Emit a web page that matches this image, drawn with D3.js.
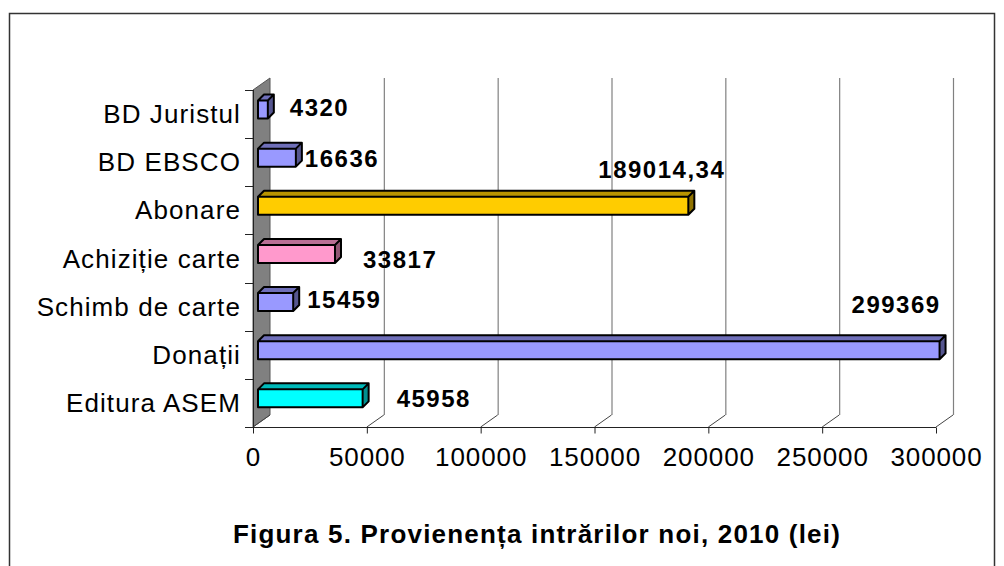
<!DOCTYPE html>
<html>
<head>
<meta charset="utf-8">
<script src="https://cdn.jsdelivr.net/npm/d3@7"></script>
<style>
  body { margin: 0; background: #fff; }
  svg { display: block; font-family: "Liberation Sans", Arial, sans-serif; }
</style>
</head>
<body>
<svg id="chart" width="1004" height="566"></svg>
<script>
// categories listed top to bottom as shown
const categories = ['BD Juristul', 'BD EBSCO', 'Abonare', 'Achiziție carte', 'Schimb de carte', 'Donații', 'Editura ASEM'];
const values = [4320, 16636, 189014.34, 33817, 15459, 299369, 45958];
const barColors = ['#9999ff', '#9999ff', '#ffcc00', '#ff99cc', '#9999ff', '#9999ff', '#00ffff'];
const xTicks = [0, 50000, 100000, 150000, 200000, 250000, 300000];
// where excel dropped each data label, relative to the bar end / band centre
const labelDx = [22, 9, -90, 28, 14, -88, 34];
const labelDy = [2, 5, -32, 9, 1, -42, 4];
const title = 'Figura 5. Provienența intrărilor noi, 2010 (lei)';

const svg = d3.select('#chart');

// outer frame
svg.append('rect')
  .attr('x', 9.5).attr('y', 13.5)
  .attr('width', 985).attr('height', 600)
  .attr('fill', 'none').attr('stroke', '#333').attr('stroke-width', 1.5);

const x = d3.scaleLinear().domain([0, 300000]).range([253, 936]);
const y = d3.scaleBand().domain(categories).range([90, 427]);

const DX = 17, DY = -12;   // depth of the plot box
const bx = 5, bdx = 6, bdy = -6;  // bar position in depth and bar thickness
const plotTop = 90, plotBottom = 427;

// grey side wall
svg.append('polygon')
  .attr('points', [[x(0), plotBottom], [x(0), plotTop], [x(0) + DX, plotTop + DY], [x(0) + DX, plotBottom + DY]].join(' '))
  .attr('fill', '#808080').attr('stroke', '#555').attr('stroke-width', 1);

// back gridlines + floor diagonals
xTicks.forEach(t => {
  if (t > 0) {
    svg.append('line')
      .attr('x1', x(t) + DX + 0.5).attr('x2', x(t) + DX + 0.5)
      .attr('y1', plotTop + DY).attr('y2', plotBottom + DY)
      .attr('stroke', '#808080').attr('stroke-width', 1.2);
  }
  svg.append('line')
    .attr('x1', x(t)).attr('y1', plotBottom)
    .attr('x2', x(t) + DX).attr('y2', plotBottom + DY)
    .attr('stroke', '#444').attr('stroke-width', 1);
});

// front value axis
const xAxis = svg.append('g')
  .attr('transform', `translate(0,${plotBottom + 0.5})`)
  .call(d3.axisBottom(x).tickValues(xTicks).tickSize(6).tickSizeOuter(0).tickFormat(d => d));
xAxis.select('.domain').attr('stroke', '#222').attr('d', `M245,0H${x(300000)}`);
xAxis.selectAll('.tick line').attr('stroke', '#222');
xAxis.selectAll('.tick text')
  .attr('y', 0).attr('dy', 38)
  .attr('font-size', 26).attr('fill', '#000')
  .attr('font-family', '"Liberation Sans", Arial, sans-serif')
  .style('letter-spacing', '0.9px');

// category axis
svg.append('line')
  .attr('x1', x(0) + 0.5).attr('x2', x(0) + 0.5)
  .attr('y1', plotTop).attr('y2', plotBottom)
  .attr('stroke', '#222').attr('stroke-width', 1);
const bandEdges = categories.map(c => y(c)).concat([plotBottom]);
bandEdges.forEach(v => {
  svg.append('line')
    .attr('x1', 245).attr('x2', x(0))
    .attr('y1', Math.round(v) + 0.5).attr('y2', Math.round(v) + 0.5)
    .attr('stroke', '#222');
});
svg.selectAll('.cat')
  .data(categories)
  .enter().append('text')
  .attr('class', 'cat')
  .attr('x', 241)
  .attr('y', d => y(d) + y.bandwidth() / 2 + 9)
  .attr('text-anchor', 'end')
  .attr('font-size', 26)
  .style('letter-spacing', '1.1px')
  .text(d => d);

// bars (front face, top face, side face)
const barH = 18;
const bars = svg.selectAll('.bar')
  .data(values)
  .enter().append('g')
  .attr('class', 'bar');

bars.each(function (v, i) {
  const g = d3.select(this);
  const x0 = x(0) + bx, x1 = x(v) + bx;
  const yt = y(categories[i]) + 10.5;
  const c = d3.color(barColors[i]);
  g.append('polygon')
    .attr('points', [[x0, yt], [x0 + bdx, yt + bdy], [x1 + bdx, yt + bdy], [x1, yt]].join(' '))
    .attr('fill', c.darker(0.9));
  g.append('polygon')
    .attr('points', [[x1, yt], [x1 + bdx, yt + bdy], [x1 + bdx, yt + barH + bdy], [x1, yt + barH]].join(' '))
    .attr('fill', c.darker(1.6));
  g.append('rect')
    .attr('x', x0).attr('y', yt)
    .attr('width', x1 - x0).attr('height', barH)
    .attr('fill', barColors[i]);
  g.append('path')
    .attr('d', `M${x0},${yt}L${x0 + bdx},${yt + bdy}H${x1 + bdx}V${yt + barH + bdy}L${x1},${yt + barH}H${x0}Z M${x0},${yt}H${x1}L${x1 + bdx},${yt + bdy} M${x1},${yt}V${yt + barH}`)
    .attr('fill', 'none').attr('stroke', '#000').attr('stroke-width', 2)
    .attr('stroke-linejoin', 'round');
});

// data labels
svg.selectAll('.lbl')
  .data(values)
  .enter().append('text')
  .attr('class', 'lbl')
  .attr('x', (d, i) => x(d) + bx + labelDx[i])
  .attr('y', (d, i) => y(categories[i]) + y.bandwidth() / 2 + labelDy[i])
  .attr('font-size', 24).attr('font-weight', 'bold')
  .style('letter-spacing', '1.5px')
  .text(d => String(d).replace('.', ','));

// title
svg.append('text')
  .attr('x', 537).attr('y', 543)
  .attr('text-anchor', 'middle')
  .attr('font-size', 26).attr('font-weight', 'bold')
  .style('letter-spacing', '1.2px')
  .text(title);
</script>
</body>
</html>
